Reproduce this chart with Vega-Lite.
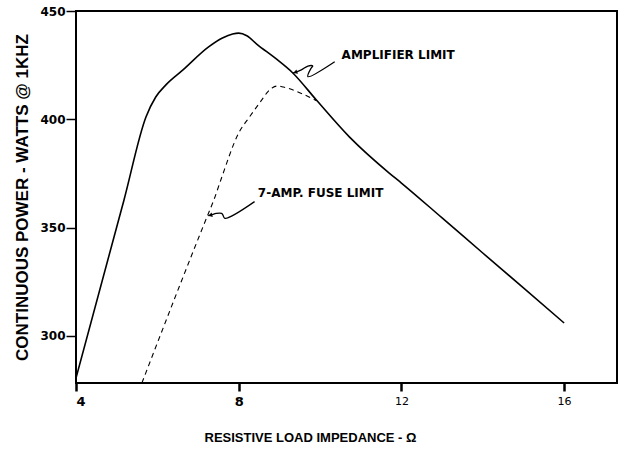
{
  "$schema": "https://vega.github.io/schema/vega-lite/v6.json",
  "autosize": "none",
  "width": 541,
  "height": 372,
  "padding": {"left": 76, "top": 11, "right": 7, "bottom": 68},
  "background": "white",
  "config": {
    "view": {"stroke": "black", "strokeWidth": 2},
    "axis": {"grid": false, "domain": false, "labelColor": "black", "titleColor": "black", "tickColor": "black"}
  },
  "datasets": {
    "curves": [
      {"s": "amp", "o": 1, "x": 4.0, "y": 280.6},
      {"s": "amp", "o": 2, "x": 5.18, "y": 362.8},
      {"s": "amp", "o": 3, "x": 5.72, "y": 401.1},
      {"s": "amp", "o": 4, "x": 5.96, "y": 410.3},
      {"s": "amp", "o": 5, "x": 6.21, "y": 415.9},
      {"s": "amp", "o": 6, "x": 6.63, "y": 422.8},
      {"s": "amp", "o": 7, "x": 7.26, "y": 433.4},
      {"s": "amp", "o": 8, "x": 7.6, "y": 437.5},
      {"s": "amp", "o": 9, "x": 7.85, "y": 439.4},
      {"s": "amp", "o": 10, "x": 8.0, "y": 439.8},
      {"s": "amp", "o": 11, "x": 8.2, "y": 438.6},
      {"s": "amp", "o": 12, "x": 8.45, "y": 434.6},
      {"s": "amp", "o": 13, "x": 8.9, "y": 428.2},
      {"s": "amp", "o": 14, "x": 9.33, "y": 421.4},
      {"s": "amp", "o": 15, "x": 9.91, "y": 408.9},
      {"s": "amp", "o": 16, "x": 10.72, "y": 391.9},
      {"s": "amp", "o": 17, "x": 11.7, "y": 375.2},
      {"s": "amp", "o": 18, "x": 12.0, "y": 370.6},
      {"s": "amp", "o": 19, "x": 13.0, "y": 354.5},
      {"s": "amp", "o": 20, "x": 14.0, "y": 338.3},
      {"s": "amp", "o": 21, "x": 15.0, "y": 322.2},
      {"s": "amp", "o": 22, "x": 16.0, "y": 306.0},
      {"s": "fuse", "o": 1, "x": 5.62, "y": 278.3},
      {"s": "fuse", "o": 2, "x": 7.26, "y": 356.8},
      {"s": "fuse", "o": 3, "x": 7.39, "y": 362.8},
      {"s": "fuse", "o": 4, "x": 7.56, "y": 372.0},
      {"s": "fuse", "o": 5, "x": 8.0, "y": 393.7},
      {"s": "fuse", "o": 6, "x": 8.27, "y": 401.2},
      {"s": "fuse", "o": 7, "x": 8.55, "y": 408.5},
      {"s": "fuse", "o": 8, "x": 8.72, "y": 412.8},
      {"s": "fuse", "o": 9, "x": 8.83, "y": 414.6},
      {"s": "fuse", "o": 10, "x": 8.97, "y": 415.4},
      {"s": "fuse", "o": 11, "x": 9.1, "y": 414.9},
      {"s": "fuse", "o": 12, "x": 9.91, "y": 408.6},
      {"s": "lead1", "o": 1, "x": 10.36, "y": 426.6},
      {"s": "lead1", "o": 2, "x": 9.7, "y": 419.7},
      {"s": "lead1", "o": 3, "x": 9.78, "y": 423.6},
      {"s": "lead1", "o": 4, "x": 9.82, "y": 424.6},
      {"s": "lead1", "o": 5, "x": 9.7, "y": 424.6},
      {"s": "lead1", "o": 6, "x": 9.54, "y": 422.8},
      {"s": "lead1", "o": 7, "x": 9.33, "y": 421.3},
      {"s": "lead2", "o": 1, "x": 8.39, "y": 362.0},
      {"s": "lead2", "o": 2, "x": 7.66, "y": 354.3},
      {"s": "lead2", "o": 3, "x": 7.61, "y": 355.9},
      {"s": "lead2", "o": 4, "x": 7.58, "y": 356.6},
      {"s": "lead2", "o": 5, "x": 7.45, "y": 356.6},
      {"s": "lead2", "o": 6, "x": 7.33, "y": 355.9},
      {"s": "lead2", "o": 7, "x": 7.25, "y": 355.5}
    ],
    "arrows": [
      {"x": 9.39, "y": 421.7, "a": 250},
      {"x": 7.3, "y": 355.7, "a": 255}
    ],
    "labels": [
      {"x": 10.53, "y": 429.7, "t": "AMPLIFIER  LIMIT"},
      {"x": 8.47, "y": 366.0, "t": "7-AMP. FUSE LIMIT"}
    ]
  },
  "layer": [
    {
      "data": {"name": "curves"},
      "transform": [{"filter": "datum.s === 'amp'"}],
      "mark": {"type": "line", "color": "black", "strokeWidth": 1.6, "interpolate": "monotone", "clip": true},
      "encoding": {
        "x": {"field": "x", "type": "quantitative", "scale": {"domain": [4, 17.3], "nice": false, "zero": false},
          "axis": {"values": [4, 8, 12, 16], "title": "RESISTIVE LOAD IMPEDANCE - Ω",
            "titleFont": "Liberation Sans", "titleFontSize": 13, "titleFontWeight": "bold",
            "titleX": 234, "titleY": 54, "titleBaseline": "middle", "titleAnchor": "middle",
            "labelFont": "DejaVu Sans",
            "labelFontSize": {"condition": {"test": "datum.value <= 8", "value": 13}, "value": 11},
            "labelFontWeight": {"condition": {"test": "datum.value <= 8", "value": "bold"}, "value": "normal"},
            "tickSize": 8, "tickWidth": 2.5, "labelPadding": 4}},
        "y": {"field": "y", "type": "quantitative", "scale": {"domain": [278.3, 450], "nice": false, "zero": false},
          "axis": {"values": [300, 350, 400, 450], "title": "CONTINUOUS  POWER  -  WATTS  @ 1KHZ",
            "titleFont": "Liberation Sans", "titleFontSize": 17, "titleFontWeight": "bold", "titlePadding": 8,
            "labelFont": "DejaVu Sans", "labelFontSize": 12, "labelFontWeight": "bold",
            "tickSize": 10, "tickWidth": 1.5, "labelPadding": 1}},
        "order": {"field": "o", "type": "quantitative"}
      }
    },
    {
      "data": {"name": "curves"},
      "transform": [{"filter": "datum.s === 'fuse'"}],
      "mark": {"type": "line", "color": "black", "strokeWidth": 1.1, "strokeDash": [5, 4], "interpolate": "monotone", "clip": true},
      "encoding": {
        "x": {"field": "x", "type": "quantitative"},
        "y": {"field": "y", "type": "quantitative"},
        "order": {"field": "o", "type": "quantitative"}
      }
    },
    {
      "data": {"name": "curves"},
      "transform": [{"filter": "datum.s === 'lead1' || datum.s === 'lead2'"}],
      "mark": {"type": "line", "color": "black", "strokeWidth": 1.3, "interpolate": "catmull-rom"},
      "encoding": {
        "x": {"field": "x", "type": "quantitative"},
        "y": {"field": "y", "type": "quantitative"},
        "detail": {"field": "s"},
        "order": {"field": "o", "type": "quantitative"}
      }
    },
    {
      "data": {"name": "arrows"},
      "mark": {"type": "point", "shape": "triangle-up", "filled": true, "color": "black", "size": 22, "opacity": 1},
      "encoding": {
        "x": {"field": "x", "type": "quantitative"},
        "y": {"field": "y", "type": "quantitative"},
        "angle": {"field": "a", "type": "quantitative", "scale": null}
      }
    },
    {
      "data": {"name": "labels"},
      "mark": {"type": "text", "align": "left", "baseline": "middle", "font": "DejaVu Sans", "fontWeight": "bold", "fontSize": 12, "color": "black"},
      "encoding": {
        "x": {"field": "x", "type": "quantitative"},
        "y": {"field": "y", "type": "quantitative"},
        "text": {"field": "t"}
      }
    }
  ]
}
